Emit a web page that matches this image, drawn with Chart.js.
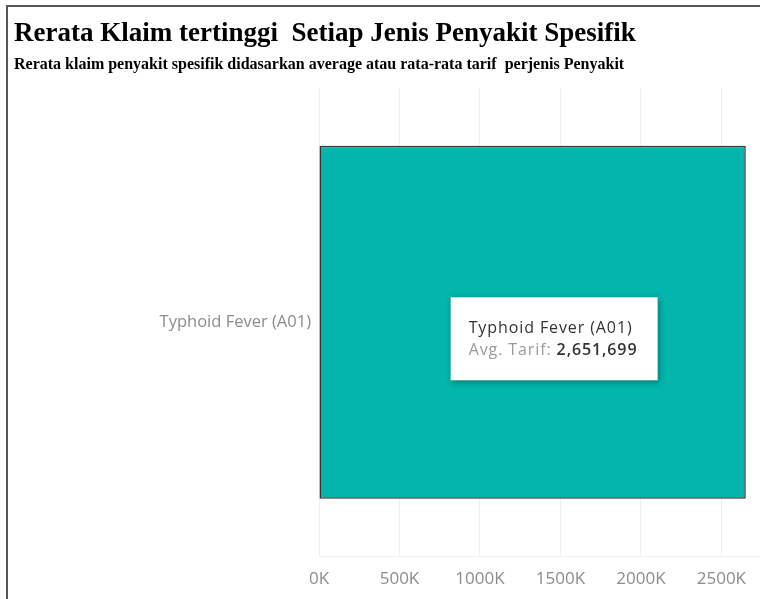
<!DOCTYPE html>
<html>
<head>
<meta charset="utf-8">
<script src="https://cdn.jsdelivr.net/npm/chart.js@4.4.1/dist/chart.umd.min.js"></script>
<style>
  html, body { margin: 0; padding: 0; background: #fff; }
  #wrap { position: relative; width: 760px; height: 599px; }
</style>
</head>
<body>
<div id="wrap"><canvas id="myChart"></canvas></div>
<script>
const categories = ['Typhoid Fever (A01)'];
const avgTarif = [2651699];
const xTicks = [0, 500000, 1000000, 1500000, 2000000, 2500000];

// frame lines on left and top, like the dashboard panel
const framePlugin = {
	id: 'frame',
	afterDraw(chart) {
		const c = chart.ctx;
		c.save();
		c.strokeStyle = '#555555';
		c.lineWidth = 2;
		c.beginPath();
		c.moveTo(7, chart.height);
		c.lineTo(7, 6);
		c.lineTo(chart.width, 6);
		c.stroke();
		c.restore();
	}
};

// static tooltip box over the bar
const tipPlugin = {
	id: 'staticTip',
	afterDatasetsDraw(chart) {
		const bar = chart.getDatasetMeta(0).data[0];
		if (!bar) return;
		const cx = (bar.x + bar.base) / 2;
		const cy = bar.y;
		const w = 207, h = 83;
		const left = cx - 82, top = cy - 25;
		const c = chart.ctx;
		c.save();
		c.shadowColor = 'rgba(0,0,0,0.35)';
		c.shadowBlur = 6;
		c.shadowOffsetX = 1;
		c.shadowOffsetY = 2;
		c.fillStyle = '#ffffff';
		c.fillRect(left, top, w, h);
		c.shadowColor = 'transparent';
		c.textBaseline = 'alphabetic';
		c.textAlign = 'left';
		c.letterSpacing = '0.9px';
		c.font = "16px 'Open Sans', sans-serif";
		c.fillStyle = '#333333';
		c.fillText(categories[0], left + 18, top + 36);
		const lbl = 'Avg. Tarif: ';
		c.fillStyle = '#9a9a9a';
		c.fillText(lbl, left + 18, top + 58);
		const lw = c.measureText(lbl).width;
		c.font = "600 16px 'Open Sans', sans-serif";
		c.fillStyle = '#333333';
		c.fillText(avgTarif[0].toLocaleString('en-US'), left + 18 + lw, top + 58);
		c.restore();
	}
};

const ctx = document.getElementById('myChart');
new Chart(ctx, {
	type: 'bar',
	data: {
		labels: categories,
		datasets: [{
			label: 'Avg. Tarif',
			data: avgTarif,
			backgroundColor: '#03b5aa',
			borderColor: '#333333',
			borderWidth: 1.5,
			borderSkipped: false,
			barPercentage: 0.755,
			categoryPercentage: 1,
		}]
	},
	options: {
		indexAxis: 'y',
		responsive: true,
		maintainAspectRatio: false,
		animation: false,
		layout: {
			padding: { left: 14, right: 0, top: 0, bottom: 0 }
		},
		plugins: {
			legend: { display: false },
			tooltip: { enabled: false },
			title: {
				display: true,
				text: 'Rerata Klaim tertinggi  Setiap Jenis Penyakit Spesifik',
				align: 'start',
				color: '#000000',
				padding: { top: 18, bottom: 0 },
				font: {
					family: "'Liberation Serif', 'Times New Roman', serif",
					size: 27,
					weight: 'bold',
					lineHeight: 1.2,
				},
			},
			subtitle: {
				display: true,
				text: 'Rerata klaim penyakit spesifik didasarkan average atau rata-rata tarif  perjenis Penyakit',
				align: 'start',
				color: '#000000',
				padding: { top: 5, bottom: 14 },
				font: {
					family: "'Liberation Serif', 'Times New Roman', serif",
					size: 16,
					weight: 'bold',
					lineHeight: 1.2,
				},
			}
		},
		scales: {
			x: {
				min: 0,
				max: 2740000,
				afterBuildTicks(axis) {
					axis.ticks = xTicks.map(v => ({ value: v }));
				},
				afterFit(axis) { axis.height = 43; },
				grid: {
					color: '#efefef',
					drawTicks: false,
				},
				border: { color: '#efefef' },
				ticks: {
					padding: 13,
					color: '#8c8c8c',
					maxRotation: 0,
					callback: v => (v / 1000) + 'K',
					font: {
						family: "'Open Sans', sans-serif",
						size: 17,
					},
				},
			},
			y: {
				afterFit(axis) { axis.width = 305; },
				grid: { display: false, drawTicks: false },
				border: { display: false },
				ticks: {
					padding: 8,
					color: '#8c8c8c',
					font: {
						family: "'Open Sans', sans-serif",
						size: 16.5,
					},
				},
			}
		}
	},
	plugins: [framePlugin, tipPlugin]
});
</script>
</body>
</html>
